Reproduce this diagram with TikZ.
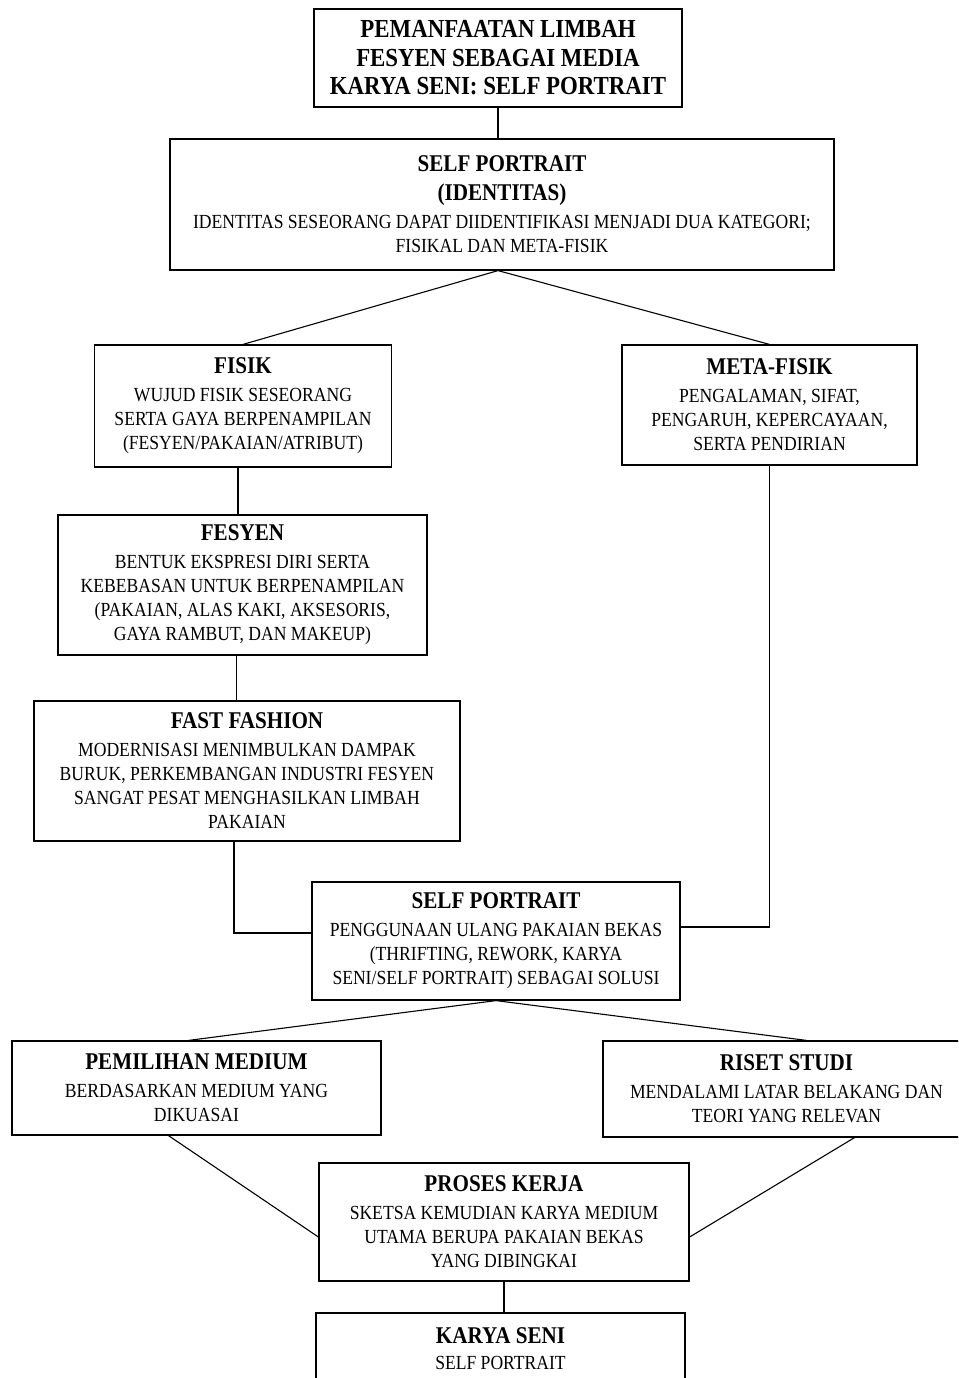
\documentclass[tikz,border=0pt]{standalone}
\usepackage{fontspec}
\setmainfont{Liberation Serif}[FakeStretch=0.88]
\usepackage{tikz}

\newcommand{\hd}[1]{{\fontsize{24}{27.6}\selectfont\bfseries #1}}

\begin{document}
\begin{tikzpicture}[x=1pt, y=-1pt,
  box/.style={draw, line width=1.2pt, align=center, inner sep=0pt,
    font=\fontsize{20}{24}\selectfont},
  link/.style={line width=1.1pt}]

  \useasboundingbox (0,0) rectangle (958,1378);
  \clip (0,0) rectangle (958,1378);

  % boxes
  \node[box, minimum width=368pt, minimum height=98pt,
    font=\fontsize{26}{28.5}\selectfont\bfseries] (title) at (498,58)
    {PEMANFAATAN LIMBAH\\ FESYEN SEBAGAI MEDIA\\ KARYA SENI: SELF PORTRAIT};
  \node[box, minimum width=664pt, minimum height=131pt] (ident) at (502,204.5)
    {\hd{SELF PORTRAIT}\\[5pt] \hd{(IDENTITAS)}\\[4pt]
     IDENTITAS SESEORANG DAPAT DIIDENTIFIKASI MENJADI DUA KATEGORI;\\
     FISIKAL DAN META-FISIK};
  \node[box, minimum width=297pt, minimum height=122pt] (fisik) at (243,406)
    {\hd{FISIK}\\[4pt] WUJUD FISIK SESEORANG\\ SERTA GAYA BERPENAMPILAN\\
     (FESYEN/PAKAIAN/ATRIBUT)};
  \node[box, minimum width=295pt, minimum height=120pt] (meta) at (769.5,405)
    {\hd{META-FISIK}\\[4pt] PENGALAMAN, SIFAT,\\ PENGARUH, KEPERCAYAAN,\\
     SERTA PENDIRIAN};
  \node[box, minimum width=369pt, minimum height=140pt] (fesyen) at (242.5,585)
    {\hd{FESYEN}\\[4pt] BENTUK EKSPRESI DIRI SERTA\\ KEBEBASAN UNTUK BERPENAMPILAN\\
     (PAKAIAN, ALAS KAKI, AKSESORIS,\\ GAYA RAMBUT, DAN MAKEUP)};
  \node[box, minimum width=426pt, minimum height=140pt] (fast) at (247,771)
    {\hd{FAST FASHION}\\[4pt] MODERNISASI MENIMBULKAN DAMPAK\\
     BURUK, PERKEMBANGAN INDUSTRI FESYEN\\ SANGAT PESAT MENGHASILKAN LIMBAH\\
     PAKAIAN};
  \node[box, minimum width=368pt, minimum height=118pt] (self) at (496,941)
    {\hd{SELF PORTRAIT}\\[4pt] PENGGUNAAN ULANG PAKAIAN BEKAS\\
     (THRIFTING, REWORK, KARYA\\ SENI/SELF PORTRAIT) SEBAGAI SOLUSI};
  \node[box, minimum width=369pt, minimum height=94pt] (medium) at (196.5,1088)
    {\hd{PEMILIHAN MEDIUM}\\[4pt] BERDASARKAN MEDIUM YANG\\ DIKUASAI};
  \node[box, minimum width=367pt, minimum height=96pt] (riset) at (786.5,1089)
    {\hd{RISET STUDI}\\[4pt] MENDALAMI LATAR BELAKANG DAN\\ TEORI YANG RELEVAN};
  \node[box, minimum width=370pt, minimum height=118pt] (proses) at (504,1222)
    {\hd{PROSES KERJA}\\[4pt] SKETSA KEMUDIAN KARYA MEDIUM\\
     UTAMA BERUPA PAKAIAN BEKAS\\ YANG DIBINGKAI};
  \node[box, minimum width=369pt, minimum height=72pt] (karya) at (500.5,1349)
    {\hd{KARYA SENI}\\[2pt] SELF PORTRAIT};

  % connectors
  \draw[link] (title.south) -- (title.south |- ident.north);
  \draw[link] ([xshift=-4pt]ident.south) -- (fisik.north);
  \draw[link] ([xshift=-4pt]ident.south) -- (meta.north);
  \draw[link] ([xshift=-5pt]fisik.south) -- ([xshift=-5pt]fisik.south |- fesyen.north);
  \draw[link] ([xshift=-6pt]fesyen.south) -- ([xshift=-6pt]fesyen.south |- fast.north);
  \draw[link] ([xshift=-13pt]fast.south) |- ([yshift=8pt]self.west);
  \draw[link] (meta.south) |- ([yshift=14pt]self.east);
  \draw[link] (self.south) -- ([xshift=-8pt]medium.north);
  \draw[link] (self.south) -- ([xshift=20pt]riset.north);
  \draw[link] ([xshift=-28pt]medium.south) -- ([yshift=-15pt]proses.west);
  \draw[link] ([xshift=68pt]riset.south) -- ([yshift=-15pt]proses.east);
  \draw[link] (proses.south) -- (proses.south |- karya.north);

\end{tikzpicture}
\end{document}
